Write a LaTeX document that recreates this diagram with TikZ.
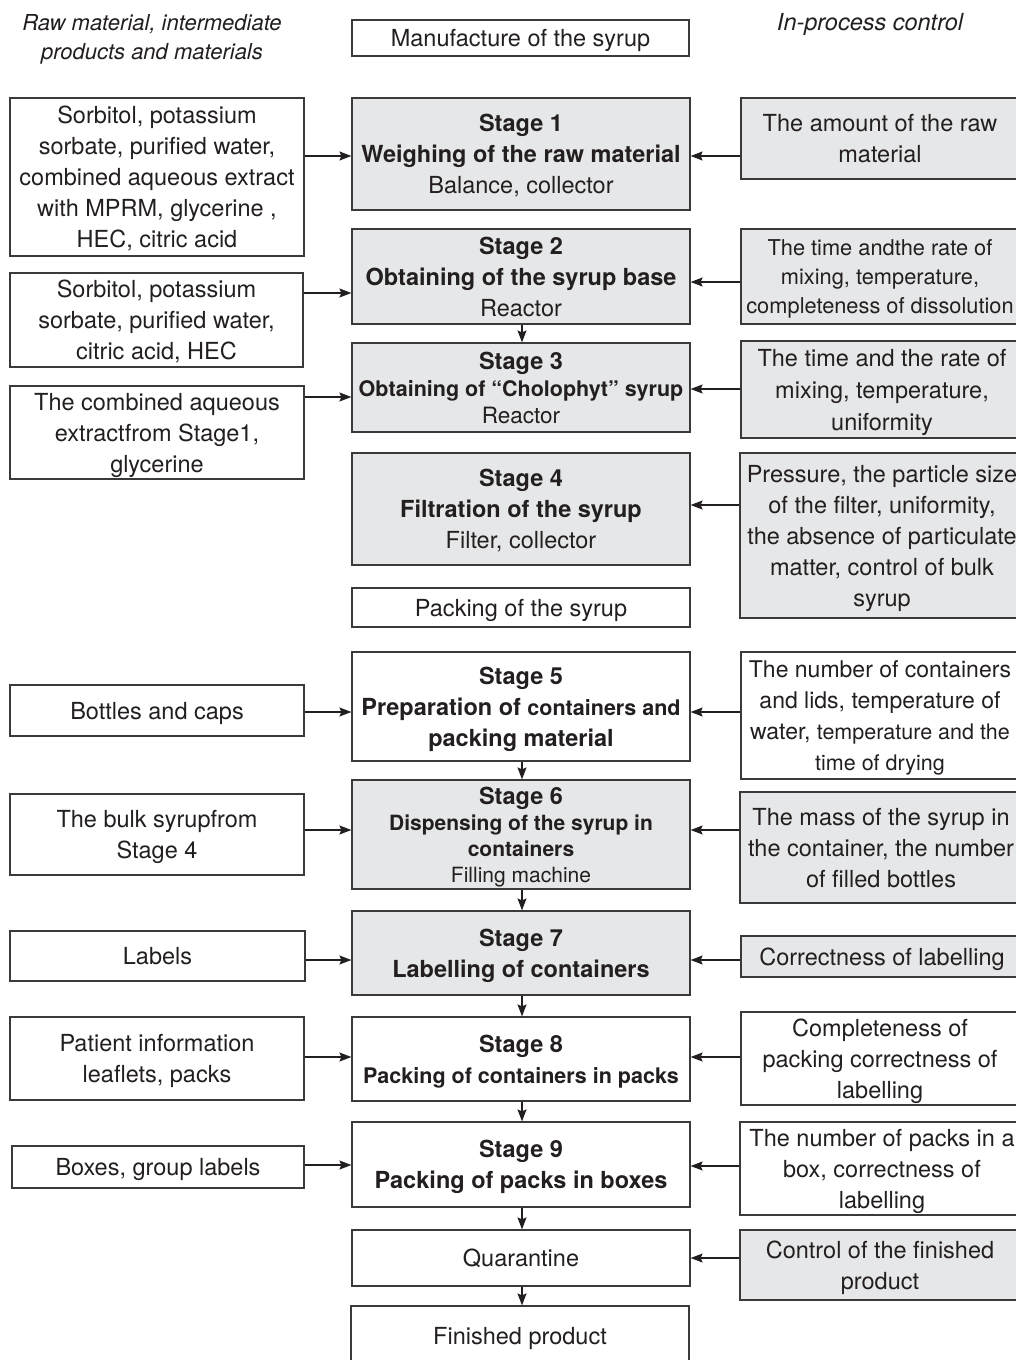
\documentclass[tikz,border=0pt]{standalone}
\usepackage{fontspec}
\setmainfont{TeX Gyre Heros}
\usetikzlibrary{arrows.meta}
\definecolor{boxgray}{HTML}{E6E7E8}
\definecolor{ink}{HTML}{231F20}
\definecolor{edge}{HTML}{3A3A3A}
\begin{document}
\begin{tikzpicture}[x=1pt,y=-1pt,
  box/.style={draw=edge, line width=1.2pt, rectangle, inner sep=1pt, align=center, text=ink, text depth=0pt, font=\fontsize{23.5}{31}\selectfont},
  gbox/.style={box, fill=boxgray},
  arr/.style={draw=ink, line width=1.2pt, -{Stealth[length=12pt,width=9pt,inset=2pt]}},
  lbl/.style={align=center, text=ink, font=\fontsize{22}{29}\selectfont\itshape}]
\useasboundingbox (0,0) rectangle (1016,1360);
\fill[white] (0,0) rectangle (1016,1360);

% headers
\node[lbl] (hl) at (152,39) {Raw material, intermediate\\products and materials};
\node[lbl, font=\fontsize{23.5}{29}\selectfont\itshape] (hr) at (870,24) {In-process control};
\node[box, minimum width=337pt, minimum height=36pt] (ms) at (520.5,38) {Manufacture of the syrup};

% left column
\node[box, minimum width=294pt, minimum height=158pt] (L1) at (157,177) {Sorbitol, potassium\\sorbate, purified water,\\combined aqueous extract\\with MPRM, glycerine ,\\HEC, citric acid};
\node[box, minimum width=293pt, minimum height=94pt] (L2) at (156.5,320) {Sorbitol, potassium\\sorbate, purified water,\\citric acid, HEC};
\node[box, minimum width=294pt, minimum height=93pt] (L3) at (157,432.5) {The combined aqueous\\extractfrom Stage1,\\glycerine};
\node[box, minimum width=294pt, minimum height=51pt] (L5) at (157,710.5) {Bottles and caps};
\node[box, minimum width=294pt, minimum height=81pt] (L6) at (157,834.5) {The bulk syrupfrom\\Stage 4};
\node[box, minimum width=295pt, minimum height=50pt] (L7) at (157.5,956) {Labels};
\node[box, minimum width=294pt, minimum height=83pt] (L8) at (157,1058.5) {Patient information\\leaflets, packs};
\node[box, minimum width=292pt, minimum height=42pt] (L9) at (158,1167) {Boxes, group labels};

% centre column
\node[gbox, minimum width=338pt, minimum height=112pt] (S1) at (521,154) {\textbf{Stage 1}\\\textbf{Weighing of the raw material}\\Balance, collector};
\node[gbox, minimum width=338pt, minimum height=95pt] (S2) at (521,276.5) {\textbf{Stage 2}\\\textbf{Obtaining of the syrup base}\\Reactor};
\node[gbox, minimum width=338pt, minimum height=89pt, font=\fontsize{21.5}{27}\selectfont] (S3) at (521,387.5) {{\fontsize{23.5}{27}\selectfont\textbf{Stage 3}}\\\textbf{Obtaining of “Cholophyt” syrup}\\{\fontsize{22.5}{27}\selectfont Reactor}};
\node[gbox, minimum width=338pt, minimum height=112pt] (S4) at (521,509) {\textbf{Stage 4}\\\textbf{Filtration of the syrup}\\Filter, collector};
\node[box, minimum width=338pt, minimum height=39pt] (PK) at (521,607.5) {Packing of the syrup};
\node[box, minimum width=338pt, minimum height=109pt] (S5) at (521,706.5) {\textbf{Stage 5}\\\textbf{Preparation of {\fontsize{21.5}{31}\selectfont containers and}}\\\textbf{packing material}};
\node[gbox, minimum width=338pt, minimum height=109pt, font=\fontsize{21}{26}\selectfont] (S6) at (521,834.5) {{\fontsize{23.5}{26}\selectfont\textbf{Stage 6}}\\\textbf{Dispensing of the syrup in}\\\textbf{containers}\\Filling machine};
\node[gbox, minimum width=338pt, minimum height=84pt] (S7) at (521,953) {\textbf{Stage 7}\\\textbf{Labelling of containers}};
\node[box, minimum width=338pt, minimum height=84pt] (S8) at (521,1059) {\textbf{Stage 8}\\{\fontsize{21.5}{31}\selectfont\textbf{Packing of containers in packs}}};
\node[box, minimum width=338pt, minimum height=85pt] (S9) at (521,1164.5) {\textbf{Stage 9}\\\textbf{Packing of packs in boxes}};
\node[box, minimum width=338pt, minimum height=56pt] (Q) at (521,1258) {Quarantine};
\node[box, minimum width=338pt, minimum height=60pt] (FP) at (520,1336) {Finished product};

% right column
\node[gbox, minimum width=278pt, minimum height=81pt] (R1) at (880,138.5) {The amount of the raw\\material};
\node[gbox, minimum width=278pt, minimum height=95pt, font=\fontsize{21.8}{29}\selectfont] (R2) at (880,276.5) {The time andthe rate of\\mixing, temperature,\\completeness of dissolution};
\node[gbox, minimum width=282pt, minimum height=97pt, font=\fontsize{23.5}{32}\selectfont] (R3) at (882,389.5) {The time and the rate of\\mixing, temperature,\\uniformity};
\node[gbox, minimum width=284pt, minimum height=165pt] (R4) at (882,535.5) {Pressure, the particle size\\of the filter, uniformity,\\the absence of particulate\\matter, control of bulk\\syrup};
\node[box, minimum width=278pt, minimum height=127pt, font=\fontsize{23}{31}\selectfont] (R5) at (880,715.5) {The number of containers\\and lids, temperature of\\water, {\fontsize{21.5}{31}\selectfont temperature and the}\\{\fontsize{21.5}{31}\selectfont time of drying}};
\node[gbox, minimum width=282pt, minimum height=111pt] (R6) at (881,847.5) {The mass of the syrup in\\the container, the number\\of filled bottles};
\node[gbox, minimum width=282pt, minimum height=41pt] (R7) at (882,956.5) {Correctness of labelling};
\node[box, minimum width=278pt, minimum height=93pt] (R8) at (880,1058.5) {Completeness of\\packing correctness of\\labelling};
\node[box, minimum width=284pt, minimum height=93pt] (R9) at (882,1168.5) {The number of packs in a\\box, correctness of\\labelling};
\node[gbox, minimum width=280pt, minimum height=70pt] (R10) at (880,1265) {Control of the finished\\product};

% left to centre arrows
\draw[arr] (L1.east |- 0,156) -- (S1.west |- 0,156);
\draw[arr] (L2.east |- 0,293) -- (S2.west |- 0,293);
\draw[arr] (L3.east |- 0,397) -- (S3.west |- 0,397);
\draw[arr] (L5.east |- 0,712) -- (S5.west |- 0,712);
\draw[arr] (L6.east |- 0,830) -- (S6.west |- 0,830);
\draw[arr] (L7.east |- 0,960) -- (S7.west |- 0,960);
\draw[arr] (L8.east |- 0,1057) -- (S8.west |- 0,1057);
\draw[arr] (L9.east |- 0,1165) -- (S9.west |- 0,1165);

% right to centre arrows
\draw[arr] (R1.west |- 0,156) -- (S1.east |- 0,156);
\draw[arr] (R2.west |- 0,282) -- (S2.east |- 0,282);
\draw[arr] (R3.west |- 0,389) -- (S3.east |- 0,389);
\draw[arr] (R4.west |- 0,505) -- (S4.east |- 0,505);
\draw[arr] (R5.west |- 0,712) -- (S5.east |- 0,712);
\draw[arr] (R6.west |- 0,830) -- (S6.east |- 0,830);
\draw[arr] (R7.west |- 0,960) -- (S7.east |- 0,960);
\draw[arr] (R8.west |- 0,1057) -- (S8.east |- 0,1057);
\draw[arr] (R9.west |- 0,1166) -- (S9.east |- 0,1166);
\draw[arr] (R10.west |- 0,1258) -- (Q.east |- 0,1258);

% vertical arrows
\draw[arr] (S2.south -| 522,0) -- (S3.north -| 522,0);
\draw[arr] (S5.south -| 522,0) -- (S6.north -| 522,0);
\draw[arr] (S6.south -| 522,0) -- (S7.north -| 522,0);
\draw[arr] (S7.south -| 522,0) -- (S8.north -| 522,0);
\draw[arr] (S8.south -| 522,0) -- (S9.north -| 522,0);
\draw[arr] (S9.south -| 522,0) -- (Q.north -| 522,0);
\draw[arr] (Q.south -| 522,0) -- (FP.north -| 522,0);
\end{tikzpicture}
\end{document}
